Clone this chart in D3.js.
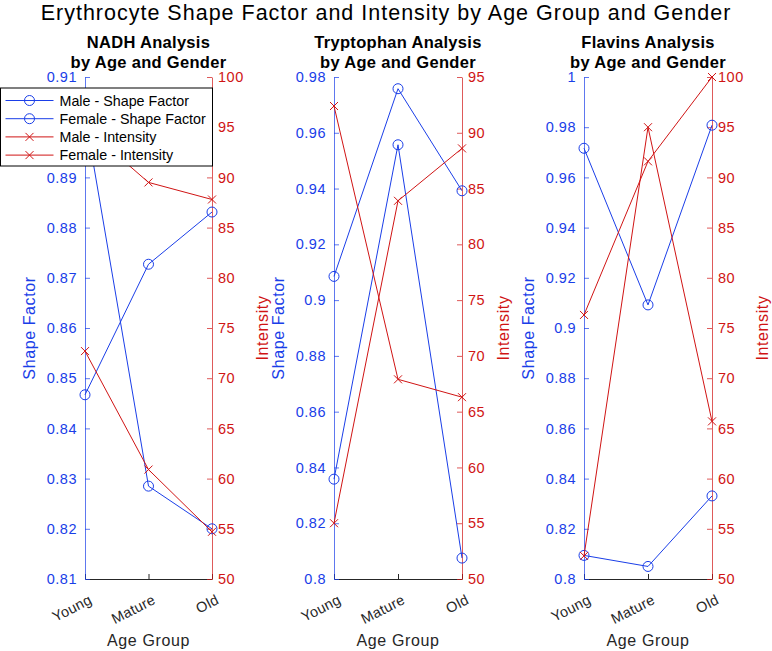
<!DOCTYPE html>
<html>
<head>
<meta charset="utf-8">
<script src="https://cdn.jsdelivr.net/npm/d3@7/dist/d3.min.js"></script>
<style>
  body { margin: 0; padding: 0; background: #fff; }
  svg { display: block; font-family: "Liberation Sans", Arial, Helvetica, sans-serif; }
</style>
</head>
<body>
<svg id="chart" width="772" height="651"></svg>
<script>
// chart data, one entry per panel
const ageGroups = ["Young", "Mature", "Old"];
const panelTitles = ["NADH Analysis", "Tryptophan Analysis", "Flavins Analysis"];
const maleShape   = [[0.9025, 0.8285, 0.8200], [0.9085, 0.9758, 0.9392], [0.9716, 0.9092, 0.9808]];
const femaleShape = [[0.8467, 0.8727, 0.8831], [0.8358, 0.9557, 0.8075], [0.8094, 0.8050, 0.8331]];
const maleInt     = [[95.0, 89.5, 87.8], [92.4, 67.9, 66.3], [76.3, 91.6, 100.0]];
const femaleInt   = [[72.7, 60.9, 54.7], [55.0, 83.9, 88.6], [52.3, 95.0, 65.7]];
const shapeDomains = [[0.81, 0.91], [0.80, 0.98], [0.80, 1.00]];
const shapeSteps = [0.01, 0.02, 0.02];
const intDomains = [[50, 100], [50, 95], [50, 100]];
const intStep = 5;
const legendLabels = ["Male - Shape Factor", "Female - Shape Factor", "Male - Intensity", "Female - Intensity"];

const BLUE = "#1a3ee8", RED = "#d01414", DARK = "#262626";
const panelX = [[85, 212], [334, 462], [584, 712]];
const plotTop = 77, plotBottom = 579;

const svg = d3.select("#chart");
const fmt = d => String(+d.toFixed(2));
const ticksOf = (dom, step) => d3.range(Math.round((dom[1] - dom[0]) / step) + 1).map(i => +(dom[0] + i * step).toFixed(4));

svg.append("text")
  .attr("x", 386).attr("y", 19.5)
  .attr("text-anchor", "middle")
  .attr("font-size", 21.5).attr("letter-spacing", 1)
  .attr("fill", "#000")
  .text("Erythrocyte Shape Factor and Intensity by Age Group and Gender");

panelTitles.forEach((title, p) => {
  const [x0, x1] = panelX[p];
  const x = d3.scalePoint(ageGroups, [x0, x1]);
  const yL = d3.scaleLinear(shapeDomains[p], [plotBottom, plotTop]);
  const yR = d3.scaleLinear(intDomains[p], [plotBottom, plotTop]);
  const g = svg.append("g");
  const cx = (x0 + x1) / 2;

  // subplot title
  const t = g.append("text").attr("text-anchor", "middle")
    .attr("font-size", 16.5).attr("letter-spacing", 0.3)
    .attr("font-weight", "bold").attr("fill", "#000");
  t.append("tspan").attr("x", cx).attr("y", 47.5).text(title);
  t.append("tspan").attr("x", cx).attr("y", 68).text("by Age and Gender");

  // x axis
  const xa = g.append("g").attr("transform", `translate(0,${plotBottom})`)
    .call(d3.axisBottom(x).tickSize(-5).tickSizeOuter(0).tickFormat(""));
  xa.select(".domain").attr("stroke", DARK);
  xa.selectAll(".tick line").attr("stroke", DARK);
  ageGroups.forEach(a => {
    g.append("text")
      .attr("transform", `translate(${x(a) + 8},${plotBottom + 24}) rotate(-27)`)
      .attr("text-anchor", "end")
      .attr("font-size", 14.5).attr("letter-spacing", 0.3).attr("fill", DARK)
      .text(a);
  });
  g.append("text").attr("x", cx).attr("y", 646)
    .attr("text-anchor", "middle").attr("font-size", 16).attr("letter-spacing", 0.6)
    .attr("fill", DARK)
    .text("Age Group");

  // left axis
  const la = g.append("g").attr("transform", `translate(${x0},0)`)
    .call(d3.axisLeft(yL).tickValues(ticksOf(shapeDomains[p], shapeSteps[p]))
      .tickSize(-5).tickSizeOuter(0).tickPadding(8).tickFormat(fmt));
  la.select(".domain").attr("stroke", BLUE).attr("stroke-opacity", 0.7);
  la.selectAll(".tick line").attr("stroke", BLUE).attr("stroke-opacity", 0.7);
  la.selectAll("text").attr("font-size", 14.5).attr("letter-spacing", 0.5)
    .attr("fill", BLUE).attr("font-family", null);
  const lw = la.node().getBBox();
  g.append("text")
    .attr("transform", `translate(${lw.x + x0 - 12},${(plotTop + plotBottom) / 2}) rotate(-90)`)
    .attr("text-anchor", "middle").attr("font-size", 16).attr("letter-spacing", 0.6)
    .attr("fill", BLUE)
    .text("Shape Factor");

  // right axis
  const ra = g.append("g").attr("transform", `translate(${x1},0)`)
    .call(d3.axisRight(yR).tickValues(ticksOf(intDomains[p], intStep))
      .tickSize(-5).tickSizeOuter(0).tickPadding(6).tickFormat(fmt));
  ra.select(".domain").attr("stroke", RED).attr("stroke-opacity", 0.7);
  ra.selectAll(".tick line").attr("stroke", RED).attr("stroke-opacity", 0.7);
  ra.selectAll("text").attr("font-size", 14.5).attr("letter-spacing", 0.5)
    .attr("fill", RED).attr("font-family", null);
  const rw = ra.node().getBBox();
  g.append("text")
    .attr("transform", `translate(${x1 + rw.x + rw.width + 24},${(plotTop + plotBottom) / 2}) rotate(-90)`)
    .attr("text-anchor", "middle").attr("font-size", 16).attr("letter-spacing", 0.6)
    .attr("fill", RED)
    .text("Intensity");

  // series
  const lineL = d3.line().x((d, i) => x(ageGroups[i])).y(d => yL(d));
  const lineR = d3.line().x((d, i) => x(ageGroups[i])).y(d => yR(d));
  [maleShape[p], femaleShape[p]].forEach(vals => {
    g.append("path").attr("d", lineL(vals)).attr("fill", "none").attr("stroke", BLUE).attr("stroke-width", 1);
    g.selectAll(null).data(vals).join("circle")
      .attr("cx", (d, i) => x(ageGroups[i])).attr("cy", d => yL(d)).attr("r", 5)
      .attr("fill", "none").attr("stroke", BLUE).attr("stroke-width", 1);
  });
  [maleInt[p], femaleInt[p]].forEach(vals => {
    g.append("path").attr("d", lineR(vals)).attr("fill", "none").attr("stroke", RED).attr("stroke-width", 1);
    g.selectAll(null).data(vals).join("path")
      .attr("transform", (d, i) => `translate(${x(ageGroups[i])},${yR(d)})`)
      .attr("d", "M-4,-4L4,4M-4,4L4,-4")
      .attr("stroke", RED).attr("stroke-width", 1);
  });
});

// legend over the first panel
const lg = svg.append("g").attr("transform", "translate(0.5,88)");
lg.append("rect").attr("width", 212).attr("height", 78)
  .attr("fill", "#fff").attr("stroke", "#000").attr("stroke-width", 1);
legendLabels.forEach((lab, i) => {
  const col = i < 2 ? BLUE : RED;
  const yy = 12.5 + i * 18.2;
  lg.append("line").attr("x1", 5).attr("x2", 53).attr("y1", yy).attr("y2", yy)
    .attr("stroke", col).attr("stroke-width", 1);
  if (i < 2) {
    lg.append("circle").attr("cx", 29).attr("cy", yy).attr("r", 5)
      .attr("fill", "none").attr("stroke", col);
  } else {
    lg.append("path").attr("transform", `translate(29,${yy})`)
      .attr("d", "M-4,-4L4,4M-4,4L4,-4").attr("stroke", col);
  }
  lg.append("text").attr("x", 59).attr("y", yy + 5)
    .attr("font-size", 14.3).attr("fill", "#000").text(lab);
});
</script>
</body>
</html>
